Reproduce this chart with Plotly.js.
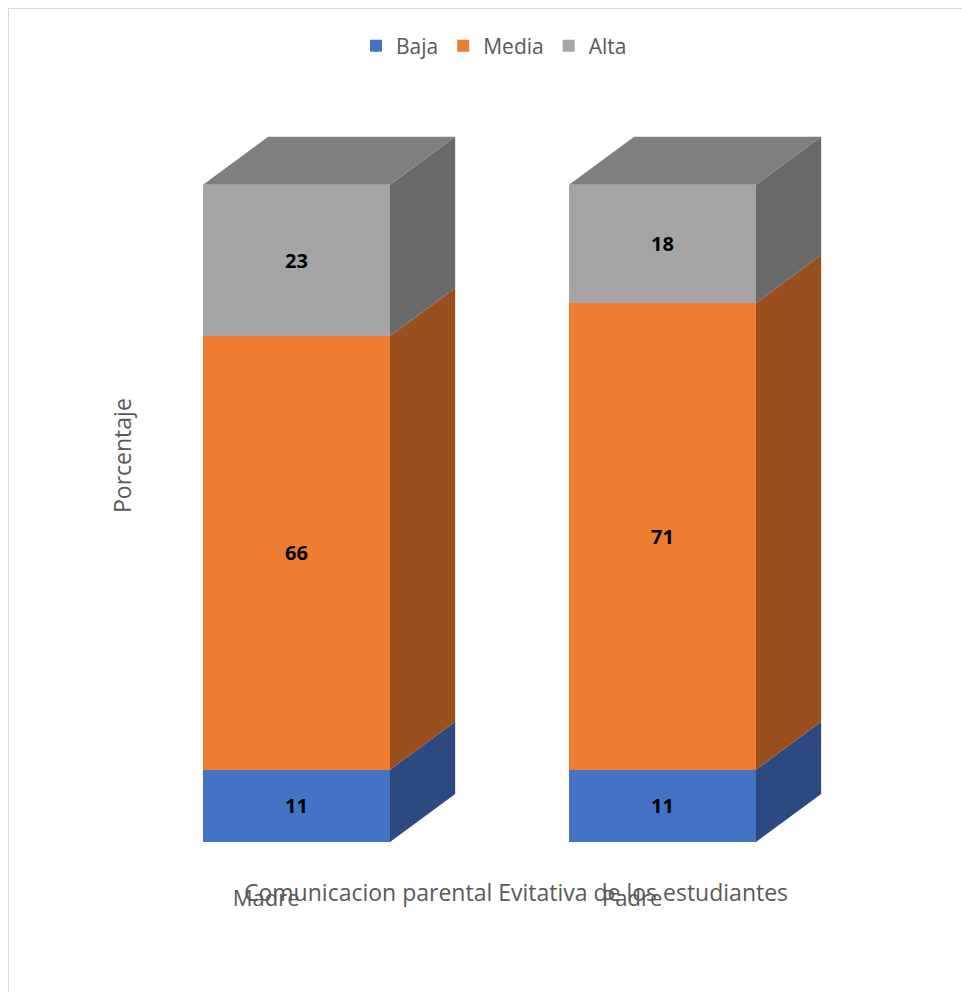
<!DOCTYPE html>
<html>
<head>
<meta charset="utf-8">
<script src="https://cdn.plot.ly/plotly-3.0.1.min.js"></script>
<style>
  html, body { margin: 0; padding: 0; background: #fff; overflow: hidden; }
  #wrap { position: relative; width: 962px; height: 992px; }
  #frame { position: absolute; left: 8px; top: 8px; width: 1000px; height: 1000px; border: 1px solid #d9d9d9; box-sizing: border-box; pointer-events: none; }
  #chart { position: absolute; left: 0; top: 0; width: 962px; height: 992px; }
</style>
</head>
<body>
<div id="wrap">
  <div id="frame"></div>
  <div id="chart"></div>
</div>
<script>
// ---- data ----
var categories = ["Madre", "Padre"];
var seriesNames = ["Baja", "Media", "Alta"];
var baja  = [11, 11];
var media = [66, 71];
var alta  = [23, 18];
var xTitle = "Comunicacion parental Evitativa de los estudiantes";
var yTitle = "Porcentaje";

// ---- style ----
var frontColors = ["#4472C4", "#ED7D31", "#A5A5A5"];
var sideColors  = ["#2C4A7F", "#9A4F1E", "#696969"];
var topColor    = "#7F7F7F";
var barWidth = 0.511;   // in category units
var depthX = 0.178;     // 3D depth offset (x units)
var depthY = 7.3;       // 3D depth offset (y units)
var txtGray = "#595959";
var fontFam = "'Open Sans', 'Liberation Sans', sans-serif";

var xs = categories.map(function (c, i) { return i; });
var seriesVals = [baja, media, alta];

var traces = [];

// side faces (one trace per colour, polygons separated by nulls)
var bases = xs.map(function () { return 0; });
seriesVals.forEach(function (vals, k) {
  var px = [], py = [];
  xs.forEach(function (x, i) {
    var b = bases[i], t = bases[i] + vals[i];
    var xr = x + barWidth / 2;
    px.push(xr, xr + depthX, xr + depthX, xr, xr, null);
    py.push(b, b + depthY, t + depthY, t, b, null);
  });
  traces.push({
    type: "scatter", mode: "lines", x: px, y: py, fill: "toself",
    fillcolor: sideColors[k], line: { width: 0, color: sideColors[k] },
    hoverinfo: "skip", showlegend: false, connectgaps: false
  });
  xs.forEach(function (x, i) { bases[i] += vals[i]; });
});

// top faces
(function () {
  var px = [], py = [];
  xs.forEach(function (x, i) {
    var T = bases[i];
    var xl = x - barWidth / 2, xr = x + barWidth / 2;
    px.push(xl, xr, xr + depthX, xl + depthX, xl, null);
    py.push(T, T, T + depthY, T + depthY, T, null);
  });
  traces.push({
    type: "scatter", mode: "lines", x: px, y: py, fill: "toself",
    fillcolor: topColor, line: { width: 0, color: topColor },
    hoverinfo: "skip", showlegend: false, connectgaps: false
  });
})();

// front faces (stacked bars)
seriesVals.forEach(function (vals, k) {
  traces.push({
    type: "bar", name: seriesNames[k], x: xs, y: vals, width: barWidth,
    marker: { color: frontColors[k], line: { width: 0 } },
    text: vals.map(String), textposition: "inside", insidetextanchor: "middle",
    textangle: 0, constraintext: "none",
    textfont: { family: fontFam, size: 20, color: "#000000", weight: "bold" },
    hoverinfo: "name+y"
  });
});

// layout geometry
var mL = 20, mR = 20, mT = 119, mB = 150;
var plotW = 962 - mL - mR;
var plotH = 992 - mT - mB;
var unitPx = 366;
var x0 = -(296.5 - mL) / unitPx;
var x1 = x0 + plotW / unitPx;

var layout = {
  width: 962, height: 992,
  margin: { l: mL, r: mR, t: mT, b: mB, pad: 0 },
  paper_bgcolor: "rgba(0,0,0,0)", plot_bgcolor: "rgba(0,0,0,0)",
  barmode: "stack",
  font: { family: fontFam, color: txtGray },
  xaxis: {
    range: [x0, x1], showgrid: false, zeroline: false, showline: false,
    tickvals: xs.map(function (x) { return x - 0.083; }),
    ticktext: categories,
    ticks: "outside", ticklen: 37, tickcolor: "rgba(0,0,0,0)",
    tickfont: { family: fontFam, size: 22, color: txtGray },
    fixedrange: true
  },
  yaxis: {
    range: [0, 110], showgrid: false, zeroline: false, showline: false,
    showticklabels: false, ticks: "", fixedrange: true
  },
  legend: {
    orientation: "h", x: (494 - mL) / plotW, xanchor: "center",
    y: (842 - 46) / plotH, yanchor: "middle",
    font: { family: fontFam, size: 21, color: txtGray },
    traceorder: "normal", itemwidth: 30
  },
  annotations: [
    {
      text: xTitle, xref: "paper", yref: "paper",
      x: (516 - mL) / plotW, y: (842 - 892) / plotH,
      xanchor: "center", yanchor: "middle", showarrow: false,
      font: { family: fontFam, size: 23, color: txtGray }
    },
    {
      text: yTitle, xref: "paper", yref: "paper", textangle: -90,
      x: (122 - mL) / plotW, y: (842 - 456) / plotH,
      xanchor: "center", yanchor: "middle", showarrow: false,
      font: { family: fontFam, size: 23, color: txtGray }
    }
  ],
  showlegend: true
};

Plotly.newPlot("chart", traces, layout, { displayModeBar: false, staticPlot: true });
</script>
</body>
</html>
